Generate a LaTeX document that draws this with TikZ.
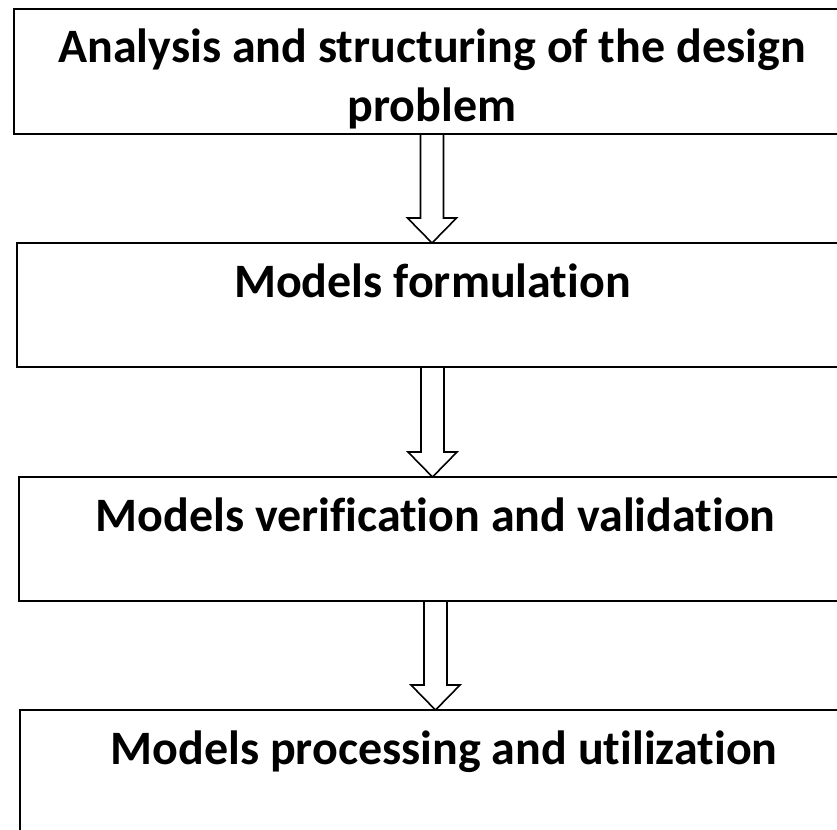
\documentclass[tikz,border=0pt]{standalone}
\usepackage{fontspec}
\setmainfont{Carlito}[Ligatures=CommonOff]
\usetikzlibrary{calc}

% stage boxes of the process; text sits near the top edge
\tikzset{
  stage/.style={draw, line width=1.8pt, rectangle, inner sep=0pt, outer sep=0pt,
    anchor=north west, font=\bfseries\fontsize{48}{59}\selectfont},
  blockarrow/.style={draw, line width=1.6pt, line join=miter,
    to path={let \p1=(\tikztostart), \p2=(\tikztotarget) in
      (\x1-11.5pt,\y1) -- (\x1-11.5pt,\y2+25pt) -- (\x1-24.5pt,\y2+25pt)
      -- (\x1,\y2) -- (\x1+24.5pt,\y2+25pt) -- (\x1+11.5pt,\y2+25pt)
      -- (\x1+11.5pt,\y1)}}
}
\newcommand\stagetext[3]{\parbox[c][#1][t]{#2}{\centering\rule{0pt}{54pt}#3\par}}

\begin{document}
\begin{tikzpicture}[x=1pt,y=-1pt]
  \useasboundingbox (0,0) rectangle (837,829);
  \clip (0,0) rectangle (837,829);

  \node[stage] (b1) at (14,9)
    {\stagetext{125pt}{836pt}{Analysis and structuring of the design\\problem}};
  \node[stage] (b2) at (17,243)
    {\stagetext{124pt}{831pt}{Models formulation}};
  \node[stage] (b3) at (19,477)
    {\stagetext{124pt}{833pt}{Models verification and validation}};
  \node[stage] (b4) at (20,710)
    {\stagetext{140pt}{848pt}{Models processing and utilization}};

  \draw[blockarrow] (b1.south) to (b2.north);
  \draw[blockarrow] (b2.south) to (b3.north);
  \draw[blockarrow] (b3.south) to (b4.north);
\end{tikzpicture}
\end{document}
